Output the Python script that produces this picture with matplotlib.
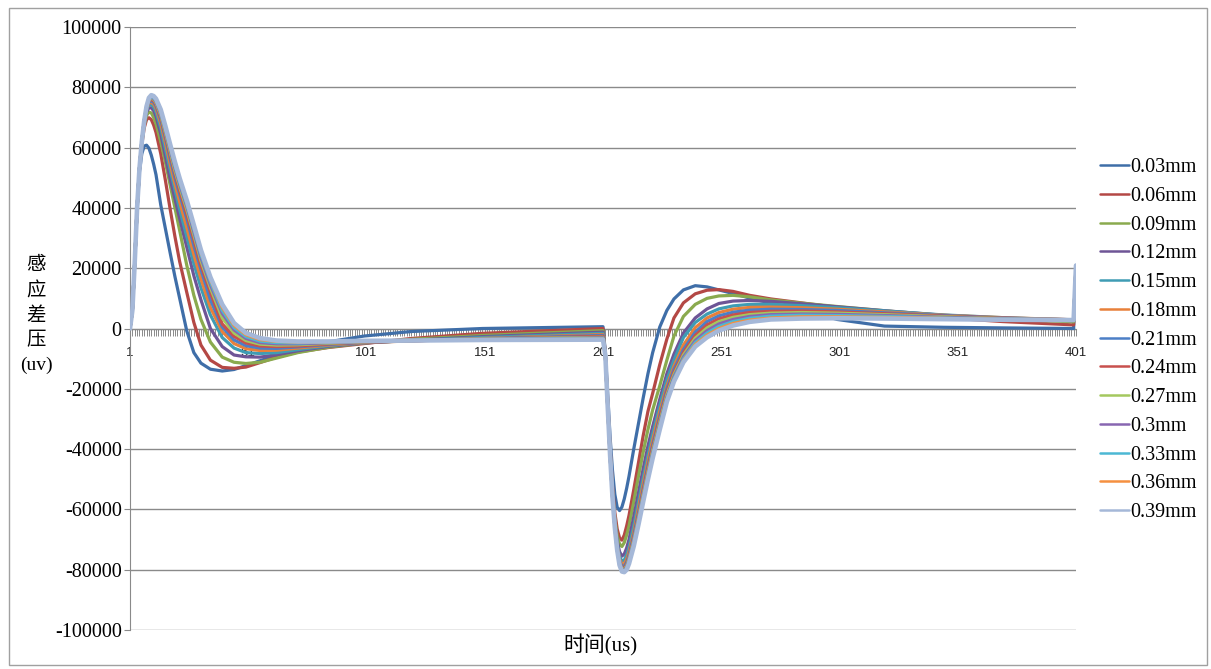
import matplotlib
matplotlib.use("Agg")
import matplotlib.pyplot as plt
from matplotlib.patches import Rectangle
from matplotlib.ticker import FixedLocator, MultipleLocator, FuncFormatter

# sample indices (category axis 1..401)
IDX_A = [1, 2, 3, 4, 5, 6, 7, 8, 9, 10, 11, 12, 14, 16, 18, 20, 22, 25, 28, 31,
         35, 40, 45, 50, 56, 63, 72, 85, 100, 120, 150, 201]
IDX_B = [202, 203, 204, 205, 206, 207, 208, 209, 210, 211, 212, 214, 216, 218, 220,
         222, 225, 228, 231, 235, 240, 245, 250, 256, 263, 272, 285, 300, 320, 345,
         370, 400, 401]

LABELS = ["0.03mm", "0.06mm", "0.09mm", "0.12mm", "0.15mm", "0.18mm", "0.21mm",
          "0.24mm", "0.27mm", "0.3mm", "0.33mm", "0.36mm", "0.39mm"]

# induced differential voltage (uv), first pulse | second pulse
s003 = [0, 6000, 22000, 39000, 52000, 58000, 60500, 60800, 59800, 57500, 54500, 51000,
        41000, 33000, 25000, 17200, 10000, -800, -8000, -11500, -13500, -14100, -13600,
        -12300, -10700, -8800, -6800, -4400, -2500, -1000, 0, 600,
        -8000, -22000, -36000, -47000, -55000, -59300, -60400, -59200, -56500, -53000,
        -49000, -40000, -31500, -23000, -15000, -8000, 500, 6000, 9800, 12800, 14200,
        13800, 12800, 11600, 10100, 8400, 6300, 3000, 800, 400, 200, 0, 19500]
s006 = [0, 6000, 22000, 40000, 53000, 61000, 66500, 69300, 69900, 69300, 67500, 65000,
        58000, 49000, 39500, 30500, 22200, 12000, 2000, -5500, -10500, -12900, -13200,
        -12800, -11300, -9500, -7800, -6300, -5000, -3300, -1600, 0,
        -8500, -24000, -39500, -52000, -61000, -66500, -69500, -70200, -68500, -65500,
        -62000, -53500, -44500, -35500, -27500, -21500, -12000, -3500, 3500, 8500, 11500,
        12700, 12900, 12300, 11000, 9800, 8500, 7000, 5400, 3600, 2300, 1200, 19800]
s009 = [0, 6000, 22000, 40000, 53000, 61500, 67500, 70700, 71800, 71500, 70000, 67800,
        62000, 55000, 47500, 40000, 32500, 21000, 11000, 3000, -4500, -9500, -11200,
        -11600, -11200, -9800, -8000, -6200, -4800, -3600, -2300, -700,
        -9000, -25000, -40500, -53500, -63000, -68800, -71500, -72300, -71000, -68500,
        -65500, -57500, -49000, -41000, -33500, -27000, -19000, -10500, -2500, 4000, 8000,
        10000, 10800, 11000, 10500, 9500, 8400, 7300, 5900, 4300, 3200, 2200, 20000]
s012 = [0, 6000, 22000, 40000, 53000, 62000, 68200, 71800, 73200, 73200, 72200, 70300,
        64500, 57000, 49500, 43000, 36500, 27000, 17500, 9500, 0, -6000, -8800,
        -9400, -9500, -8700, -7400, -5900, -4800, -3900, -2700, -1200,
        -9000, -25500, -41000, -54000, -64000, -70500, -74000, -75500, -74800, -72800,
        -70000, -62500, -54500, -46500, -39000, -32500, -23500, -15000, -8500, -1500, 3500,
        6500, 8300, 9100, 9300, 9000, 8200, 7200, 5900, 4400, 3400, 2600, 20100]
s015 = [0, 6000, 22000, 40000, 53000, 62000, 68500, 72500, 74100, 74300, 73500, 71800,
        66500, 59500, 52500, 46000, 39500, 30500, 21500, 13500, 4500, -3000, -6500,
        -8000, -8300, -8000, -7000, -5700, -4700, -4000, -3000, -1600,
        -9000, -25500, -41500, -54500, -64500, -71500, -75500, -77200, -76800, -75000,
        -72500, -65500, -57500, -49500, -42000, -35000, -25500, -17000, -10500, -3000, 2000,
        4800, 6500, 7500, 8000, 8000, 7600, 6900, 5800, 4500, 3600, 2800, 20200]
s018 = [0, 6000, 22000, 40000, 53000, 62000, 68700, 72800, 74700, 75000, 74400, 73000,
        68000, 61500, 54500, 48000, 42000, 33500, 24500, 16500, 7000, -1000, -5000,
        -6700, -7300, -7200, -6500, -5500, -4700, -4100, -3300, -2000,
        -9000, -26000, -42000, -55000, -65000, -72200, -76500, -78200, -78000, -76500,
        -74000, -67500, -59500, -51500, -44000, -37000, -27500, -19000, -12500, -5500, 300,
        3500, 5300, 6400, 7000, 7100, 6900, 6400, 5500, 4400, 3600, 2900, 20300]
s021 = [0, 6000, 22000, 40000, 53000, 62000, 68800, 73000, 75100, 75500, 75000, 73700,
        69200, 63000, 56300, 50000, 44500, 36500, 27500, 19500, 9500, 500, -3800,
        -5700, -6500, -6600, -6100, -5300, -4600, -4100, -3400, -2300,
        -9000, -26000, -42000, -55200, -65300, -72600, -77200, -78900, -78900, -77500,
        -75000, -68500, -61000, -53000, -45500, -38500, -29000, -20000, -13500, -7000, -1200,
        2300, 4200, 5400, 6100, 6400, 6300, 6000, 5200, 4300, 3500, 2900, 20400]
s024 = [0, 6000, 22000, 40000, 53000, 62000, 68800, 73200, 75500, 76000, 75500, 74300,
        70000, 64000, 57500, 51300, 45800, 38000, 29500, 21000, 12000, 1500, -2600,
        -4800, -5800, -6000, -5800, -5100, -4500, -4100, -3500, -2600,
        -9000, -26000, -42000, -55300, -65500, -72800, -77500, -79400, -79500, -78200,
        -75800, -69500, -62000, -54000, -46500, -39500, -30000, -21000, -14500, -8000, -2300,
        1200, 3200, 4500, 5300, 5700, 5800, 5500, 4900, 4100, 3400, 2900, 20500]
s027 = [0, 6000, 22000, 40000, 53000, 62000, 68800, 73300, 75800, 76400, 76000, 74800,
        70700, 64800, 58500, 52300, 47000, 39500, 31000, 22500, 13500, 3500, -1500,
        -4000, -5200, -5500, -5400, -4900, -4400, -4000, -3500, -2900,
        -9000, -26000, -42000, -55400, -65600, -73000, -77800, -79700, -79900, -78700,
        -76300, -70200, -62800, -55000, -47500, -40500, -31000, -22000, -15300, -8800, -3200,
        200, 2300, 3700, 4600, 5100, 5300, 5100, 4600, 3900, 3300, 2900, 20600]
s030 = [0, 6000, 22000, 40000, 53000, 62000, 68800, 73400, 76000, 76700, 76300, 75200,
        71300, 65500, 59300, 53200, 47800, 40500, 32000, 23500, 14500, 5000, -500,
        -3300, -4700, -5100, -5100, -4700, -4300, -4000, -3600, -3100,
        -9000, -26000, -42000, -55500, -65700, -73200, -78000, -80000, -80200, -79100,
        -76800, -70800, -63500, -55800, -48300, -41300, -31800, -22800, -16000, -9500, -4000,
        -700, 1500, 3000, 4000, 4600, 4800, 4700, 4300, 3700, 3200, 2900, 20700]
s033 = [0, 6000, 22000, 40000, 53000, 62000, 68800, 73500, 76200, 77000, 76600, 75600,
        71800, 66000, 60000, 54000, 48500, 41200, 33000, 24500, 15500, 6000, 300,
        -2700, -4200, -4700, -4800, -4500, -4200, -4000, -3700, -3300,
        -9000, -26000, -42000, -55600, -65800, -73300, -78200, -80300, -80500, -79500,
        -77200, -71300, -64000, -56400, -48900, -41900, -32400, -23300, -16600, -10100, -4700,
        -1500, 700, 2300, 3400, 4100, 4400, 4300, 4000, 3500, 3100, 2800, 20900]
s036 = [0, 6000, 22000, 40000, 53000, 62000, 68800, 73600, 76400, 77200, 76900, 75900,
        72200, 66500, 60500, 54600, 49200, 41800, 33700, 25300, 16300, 7000, 1000,
        -2100, -3700, -4300, -4500, -4400, -4200, -4000, -3800, -3500,
        -9000, -26000, -42000, -55700, -65900, -73400, -78400, -80500, -80700, -79800,
        -77600, -71700, -64500, -56900, -49400, -42400, -32900, -23800, -17100, -10600, -5300,
        -2200, 0, 1700, 2800, 3500, 3900, 3900, 3700, 3400, 3000, 2800, 20800]
s039 = [0, 6000, 22000, 40000, 53000, 62000, 68800, 73700, 76500, 77400, 77100, 76200,
        72600, 67000, 61000, 55200, 49800, 42500, 34300, 26000, 17000, 8000, 1800,
        -1500, -3200, -4000, -4300, -4300, -4100, -4000, -3800, -3700,
        -9000, -26000, -42000, -55800, -66000, -73500, -78500, -80600, -80800, -80000,
        -78000, -72200, -65000, -57400, -50000, -43000, -33500, -24300, -17600, -11200, -6000,
        -2900, -700, 1000, 2200, 3000, 3300, 3400, 3300, 3100, 2900, 2800, 20900]

COLORS = ["#3F6EA8", "#B44845", "#8AAA4E", "#6E5596", "#3F9CB4", "#E8803A", "#4C7FC6",
          "#C8504D", "#A4C85E", "#8866B1", "#4CB8D4", "#F59040", "#A5B8D8"]

series = [s003, s006, s009, s012, s015, s018, s021, s024, s027, s030, s033, s036, s039]
x = IDX_A + IDX_B

SERIF = ["Liberation Serif", "Noto Sans CJK SC"]
GRID = "#8a8a8a"

fig = plt.figure(figsize=(12.11, 6.69), dpi=100)
ax = fig.add_axes([130 / 1211, 1 - 630 / 669, (1076 - 130) / 1211, (630 - 27) / 669])

for i, (vals, lab, col) in enumerate(zip(series, LABELS, COLORS)):
    lw = 3.3 if i == len(series) - 1 else 2.3
    ax.plot(x, vals, color=col, lw=lw, label=lab, solid_joinstyle="round",
            solid_capstyle="round", zorder=3 + i)

ax.set_xlim(1, 401)
ax.set_ylim(-100000, 100000)

# x axis sits on y=0, tick marks at every category
ax.spines["top"].set_visible(False)
ax.spines["right"].set_visible(False)
ax.spines["bottom"].set_position(("data", 0))
ax.spines["bottom"].set_color(GRID)
ax.spines["left"].set_color(GRID)
ax.xaxis.set_major_locator(FixedLocator(list(range(1, 402, 50))))
ax.xaxis.set_minor_locator(MultipleLocator(1))
ax.tick_params(axis="x", which="both", direction="out", length=5, width=0.7, color=GRID)
ax.tick_params(axis="x", which="major", pad=8, labelsize=9.5, labelcolor="#222222")
for t in ax.get_xticklabels():
    t.set_fontfamily("Liberation Sans")

ax.yaxis.set_major_locator(MultipleLocator(20000))
ax.yaxis.set_major_formatter(FuncFormatter(lambda v, p: f"{int(v)}"))
ax.tick_params(axis="y", direction="out", length=4, width=0.8, color=GRID, pad=2,
               labelsize=14.5)
for t in ax.get_yticklabels():
    t.set_fontfamily("Liberation Serif")
ax.grid(axis="y", color=GRID, lw=1.0)
ax.set_axisbelow(True)

# stacked vertical y label
for ch, yy in zip(["感", "应", "差", "压", "(uv)"], [265, 291, 316, 341, 365]):
    fig.text(36 / 1211, 1 - yy / 669, ch, family=SERIF, fontsize=14, ha="center", va="center")
fig.text(600 / 1211, 1 - 645 / 669, "时间(us)", family=SERIF, fontsize=15, ha="center", va="center")

leg = ax.legend(loc="upper left", bbox_to_anchor=(1100 / 1211, 1 - 158 / 669),
                bbox_transform=fig.transFigure, frameon=False, borderpad=0,
                borderaxespad=0, handlelength=1.45, handletextpad=0.05, labelspacing=0.48,
                prop={"family": "Liberation Serif", "size": 14.5})
for ln in leg.get_lines():
    ln.set_linewidth(1.8)

fig.patches.append(Rectangle((9 / 1211, 1 - 665 / 669), 1198 / 1211, 657 / 669,
                             transform=fig.transFigure, fill=False, edgecolor="#a0a0a0", lw=1))

fig.savefig("out.png", dpi=100)
